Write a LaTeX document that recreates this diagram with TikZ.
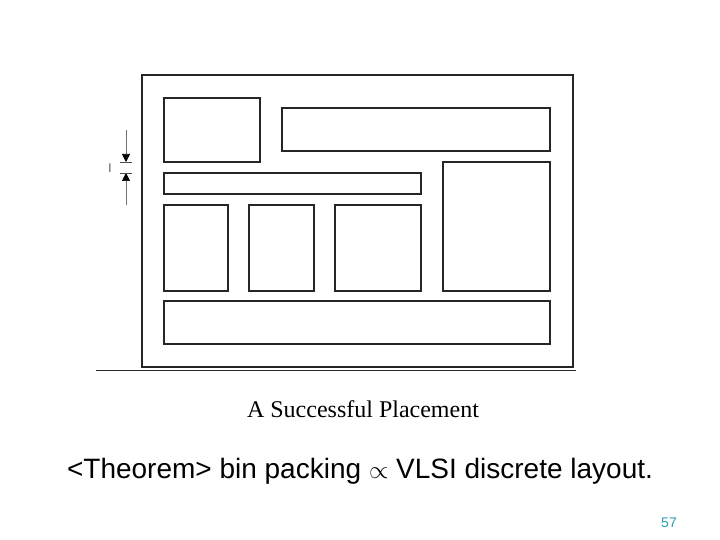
\documentclass[tikz,border=0pt]{standalone}
\usepackage{fontspec}
\setmainfont{Liberation Serif}
\newfontfamily\arialf{Liberation Sans}
\usetikzlibrary{arrows.meta}
\definecolor{pgnum}{RGB}{40,160,180}
\begin{document}
\begin{tikzpicture}[x=1pt,y=-1pt,
  blk/.style={draw=black!85,line width=1.2pt},
  frame/.style={draw=black!85,line width=2pt},
  dimln/.style={draw=black!55,line width=0.7pt},
  tick/.style={draw=black!70,line width=0.8pt},
  dimtip/.style={-{Triangle[length=8pt,width=8pt,color=black]}}]
\useasboundingbox (0,0) rectangle (720,540);
\draw[frame] (142,75) rectangle (573,367);
\draw[blk] (164,98) rectangle (260,162);
\draw[blk] (282,108) rectangle (550,151);
\draw[blk] (164,173) rectangle (421,194);
\draw[blk] (443,162) rectangle (550,291);
\draw[blk] (164,205) rectangle (228,291);
\draw[blk] (249,205) rectangle (314,291);
\draw[blk] (335,205) rectangle (421,291);
\draw[blk] (164,301) rectangle (550,344);
\draw[black!85,line width=1pt] (96,370) -- (576,370);
% dimension marker
\coordinate (t1) at (126,130);
\coordinate (t2) at (126,162);
\coordinate (u1) at (126,205);
\coordinate (u2) at (126,173);
\draw[dimln,dimtip] (t1) -- (t2);
\draw[dimln,dimtip] (u1) -- (u2);
\draw[tick] (120,162) -- (132,162);
\draw[tick] (120,173) -- (132,173);
\node[font=\arialf\fontsize{12}{14}\selectfont,text=black!70] (lbl) at (110,168) {l};
\node[font=\fontsize{24}{27}\selectfont] (cap) at (363,409) {A Successful Placement};
\node[font=\arialf\fontsize{28}{32}\selectfont] (thm) at (360,471) {<Theorem> bin packing $\propto$ VLSI discrete layout.};
\node[font=\arialf\fontsize{14}{16}\selectfont,text=pgnum] (pg) at (669,523) {57};
\end{tikzpicture}
\end{document}
